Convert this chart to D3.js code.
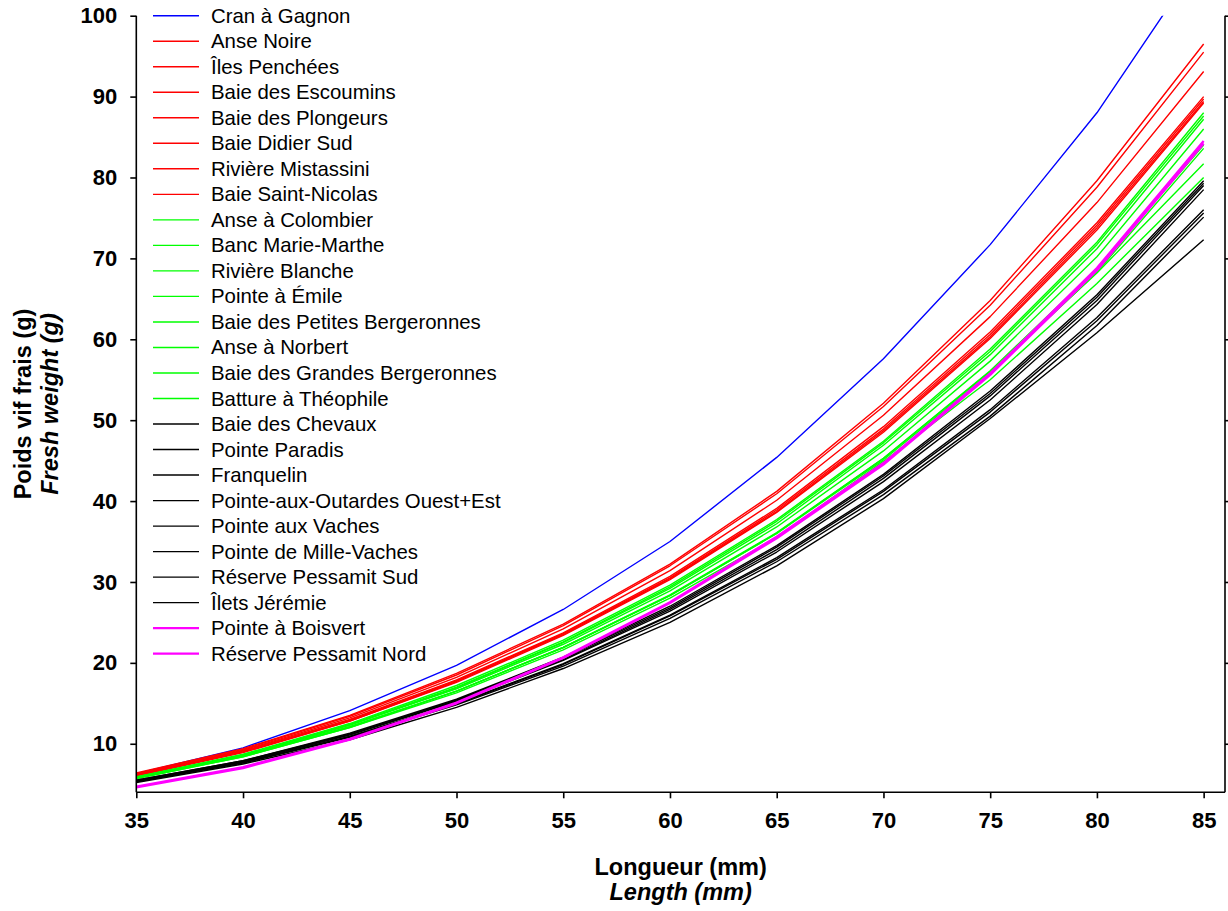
<!DOCTYPE html>
<html>
<head>
<meta charset="utf-8">
<script src="https://cdn.jsdelivr.net/npm/d3@7"></script>
<style>
  html, body { margin: 0; padding: 0; background: #fff; }
  svg { display: block; font-family: "Liberation Sans", Arial, sans-serif; }
</style>
</head>
<body>
<svg id="chart" width="1228" height="911"></svg>
<script>
// ---- data ----
const lengths = [35, 40, 45, 50, 55, 60, 65, 70, 75, 80, 85];
const xTicks = [35, 40, 45, 50, 55, 60, 65, 70, 75, 80, 85];
const yTicks = [10, 20, 30, 40, 50, 60, 70, 80, 90, 100];

const seriesNames = [
  "Cran à Gagnon",
  "Anse Noire", "Îles Penchées", "Baie des Escoumins", "Baie des Plongeurs",
  "Baie Didier Sud", "Rivière Mistassini", "Baie Saint-Nicolas",
  "Anse à Colombier", "Banc Marie-Marthe", "Rivière Blanche", "Pointe à Émile",
  "Baie des Petites Bergeronnes", "Anse à Norbert", "Baie des Grandes Bergeronnes", "Batture à Théophile",
  "Baie des Chevaux", "Pointe Paradis", "Franquelin", "Pointe-aux-Outardes Ouest+Est",
  "Pointe aux Vaches", "Pointe de Mille-Vaches", "Réserve Pessamit Sud", "Îlets Jérémie",
  "Pointe à Boisvert", "Réserve Pessamit Nord"
];
const seriesGroups = [
  "blue",
  "red", "red", "red", "red", "red", "red", "red",
  "green", "green", "green", "green", "green", "green", "green", "green",
  "black", "black", "black", "black", "black", "black", "black", "black",
  "magenta", "magenta"
];

const cranAGagnon          = [6.3, 9.5, 14.1, 19.7, 26.6, 35.0, 45.4, 57.6, 71.7, 88.0, 107.5];
const anseNoire            = [6.4, 9.4, 13.5, 18.7, 24.8, 32.2, 41.2, 52.1, 64.8, 79.6, 96.5];
const ilesPenchees         = [6.3, 9.3, 13.4, 18.5, 24.6, 32.0, 40.9, 51.7, 64.2, 78.8, 95.5];
const baieDesEscoumins     = [6.2, 9.2, 13.2, 18.2, 24.2, 31.4, 40.1, 50.6, 62.8, 76.9, 93.1];
const baieDesPlongeurs     = [6.2, 9.1, 13.0, 17.9, 23.7, 30.7, 39.1, 49.2, 60.9, 74.4, 90.0];
const baieDidierSud        = [6.1, 9.0, 12.9, 17.8, 23.6, 30.5, 38.9, 48.9, 60.6, 74.1, 89.7];
const riviereMistassini    = [6.1, 9.0, 12.8, 17.7, 23.5, 30.4, 38.7, 48.7, 60.3, 73.8, 89.4];
const baieSaintNicolas     = [6.0, 8.9, 12.8, 17.6, 23.4, 30.3, 38.6, 48.5, 60.1, 73.5, 89.2];
const anseAColombier       = [5.9, 8.7, 12.5, 17.2, 22.8, 29.6, 37.7, 47.4, 58.8, 72.0, 88.0];
const bancMarieMarthe      = [5.8, 8.6, 12.4, 17.0, 22.6, 29.4, 37.5, 47.2, 58.5, 71.7, 87.6];
const riviereBlanche       = [5.8, 8.6, 12.3, 16.9, 22.5, 29.2, 37.2, 46.9, 58.1, 71.2, 87.2];
const pointeAEmile         = [5.9, 8.6, 12.3, 16.8, 22.3, 28.9, 36.8, 46.2, 57.3, 70.2, 86.0];
const petitesBergeronnes   = [5.7, 8.4, 12.0, 16.5, 21.9, 28.4, 36.1, 45.3, 56.1, 68.7, 84.0];
const anseANorbert         = [5.8, 8.5, 12.1, 16.5, 21.9, 28.3, 36.0, 45.1, 55.8, 68.3, 83.6];
const grandesBergeronnes   = [5.8, 8.5, 12.1, 16.5, 21.9, 28.3, 36.0, 45.3, 56.0, 68.2, 81.7];
const battureATheophile    = [5.7, 8.4, 12.0, 16.3, 21.6, 28.0, 35.5, 44.9, 55.0, 66.9, 80.0];
const baieDesChevaux       = [5.5, 7.9, 11.3, 15.5, 20.7, 27.0, 34.5, 43.3, 53.6, 65.5, 79.6];
const pointeParadis        = [5.5, 7.9, 11.2, 15.4, 20.6, 26.8, 34.3, 43.1, 53.3, 65.2, 79.3];
const franquelin           = [5.4, 7.8, 11.1, 15.3, 20.4, 26.6, 34.0, 42.8, 53.0, 64.8, 79.0];
const pointeAuxOutardes    = [5.4, 7.8, 11.1, 15.2, 20.3, 26.4, 33.7, 42.4, 52.5, 64.3, 78.5];
const pointeAuxVaches      = [5.3, 7.7, 10.9, 15.0, 19.9, 25.9, 33.0, 41.4, 51.3, 62.7, 76.0];
const pointeDeMilleVaches  = [5.4, 7.7, 10.9, 14.9, 19.8, 25.8, 32.8, 41.2, 51.0, 62.3, 75.6];
const reservePessamitSud   = [5.3, 7.6, 10.8, 14.8, 19.6, 25.5, 32.5, 40.8, 50.5, 61.7, 75.1];
const iletsJeremie         = [5.2, 7.5, 10.5, 14.5, 19.3, 25.0, 32.0, 40.3, 50.2, 60.8, 72.3];
const pointeABoisvert      = [4.7, 7.1, 10.6, 15.1, 20.7, 27.5, 35.6, 44.7, 55.8, 68.8, 84.5];
const reservePessamitNord  = [4.6, 7.0, 10.5, 15.0, 20.6, 27.4, 35.4, 44.5, 55.6, 68.5, 84.2];

const seriesValues = [
  cranAGagnon,
  anseNoire, ilesPenchees, baieDesEscoumins, baieDesPlongeurs, baieDidierSud, riviereMistassini, baieSaintNicolas,
  anseAColombier, bancMarieMarthe, riviereBlanche, pointeAEmile, petitesBergeronnes, anseANorbert, grandesBergeronnes, battureATheophile,
  baieDesChevaux, pointeParadis, franquelin, pointeAuxOutardes, pointeAuxVaches, pointeDeMilleVaches, reservePessamitSud, iletsJeremie,
  pointeABoisvert, reservePessamitNord
];

// ---- styling ----
const groupColor = { blue: "#0000ff", red: "#ff0000", green: "#00ff00", black: "#000000", magenta: "#ff00ff" };
const groupWidth = { blue: 1.4, red: 1.4, green: 1.4, black: 1.4, magenta: 2.3 };

const svg = d3.select("#chart");
const pLeft = 136.3, pRight = 1225, pTop = 15.7, pBottom = 792.3;

const x = d3.scaleLinear().domain([35, 86]).range([pLeft, pRight]);
const y = d3.scaleLinear().domain([4, 100]).range([pBottom, pTop]);

svg.append("defs").append("clipPath").attr("id", "plotclip")
  .append("rect").attr("x", pLeft).attr("y", pTop).attr("width", pRight - pLeft).attr("height", pBottom - pTop);

// lines
const line = d3.line().x((d, i) => x(lengths[i])).y(d => y(d));
const lineG = svg.append("g").attr("clip-path", "url(#plotclip)");
seriesValues.forEach((vals, i) => {
  lineG.append("path")
    .attr("d", line(vals))
    .attr("fill", "none")
    .attr("stroke", groupColor[seriesGroups[i]])
    .attr("stroke-width", groupWidth[seriesGroups[i]])
    .attr("stroke-linejoin", "round");
});

// axes
const fontTick = "bold 22px 'Liberation Sans', Arial, sans-serif";
const xAxis = svg.append("g").attr("transform", `translate(0,${pBottom})`)
  .call(d3.axisBottom(x).tickValues(xTicks).tickSize(6).tickPadding(14).tickSizeOuter(0));
const yAxis = svg.append("g").attr("transform", `translate(${pLeft},0)`)
  .call(d3.axisLeft(y).tickValues(yTicks).tickSize(6).tickPadding(13).tickSizeOuter(0));
const yAxisR = svg.append("g").attr("transform", `translate(${pRight},0)`)
  .call(d3.axisRight(y).tickValues(yTicks).tickSize(5).tickFormat("").tickSizeOuter(0));

[xAxis, yAxis, yAxisR].forEach(g => {
  g.select(".domain").attr("stroke", "#000").attr("stroke-width", 1.6);
  g.selectAll(".tick line").attr("stroke", "#000").attr("stroke-width", 1.6);
  g.selectAll(".tick text").attr("fill", "#000").style("font", fontTick);
});
xAxis.select(".domain").attr("d", `M${pLeft},0H${pRight}`);
yAxis.select(".domain").attr("d", `M0,${pTop}V${pBottom}`);
yAxisR.select(".domain").attr("d", `M0,${pTop}V${pBottom}`);

// axis titles
const titleFont = "'Liberation Sans', Arial, sans-serif";
const cx = (pLeft + pRight) / 2;
svg.append("text").attr("x", cx).attr("y", 875).attr("text-anchor", "middle")
  .style("font-family", titleFont).style("font-weight", "bold").style("font-size", "23.5px")
  .text("Longueur (mm)");
svg.append("text").attr("x", cx).attr("y", 900).attr("text-anchor", "middle")
  .style("font-family", titleFont).style("font-weight", "bold").style("font-style", "italic").style("font-size", "23.5px")
  .text("Length (mm)");

const cy = (pTop + pBottom) / 2;
svg.append("text").attr("transform", `translate(31,${cy}) rotate(-90)`).attr("text-anchor", "middle")
  .style("font-family", titleFont).style("font-weight", "bold").style("font-size", "23.5px")
  .text("Poids vif frais (g)");
svg.append("text").attr("transform", `translate(58,${cy}) rotate(-90)`).attr("text-anchor", "middle")
  .style("font-family", titleFont).style("font-weight", "bold").style("font-style", "italic").style("font-size", "23.5px")
  .text("Fresh weight (g)");

// legend
const legend = svg.append("g");
const rowH = 25.52;
seriesNames.forEach((name, i) => {
  const yy = pTop + i * rowH;
  legend.append("line")
    .attr("x1", 153).attr("x2", 199).attr("y1", yy).attr("y2", yy)
    .attr("stroke", groupColor[seriesGroups[i]])
    .attr("stroke-width", groupWidth[seriesGroups[i]]);
  legend.append("text")
    .attr("x", 211).attr("y", yy + 7)
    .style("font-family", titleFont).style("font-size", "20.4px").attr("fill", "#000")
    .text(name);
});
</script>
</body>
</html>
